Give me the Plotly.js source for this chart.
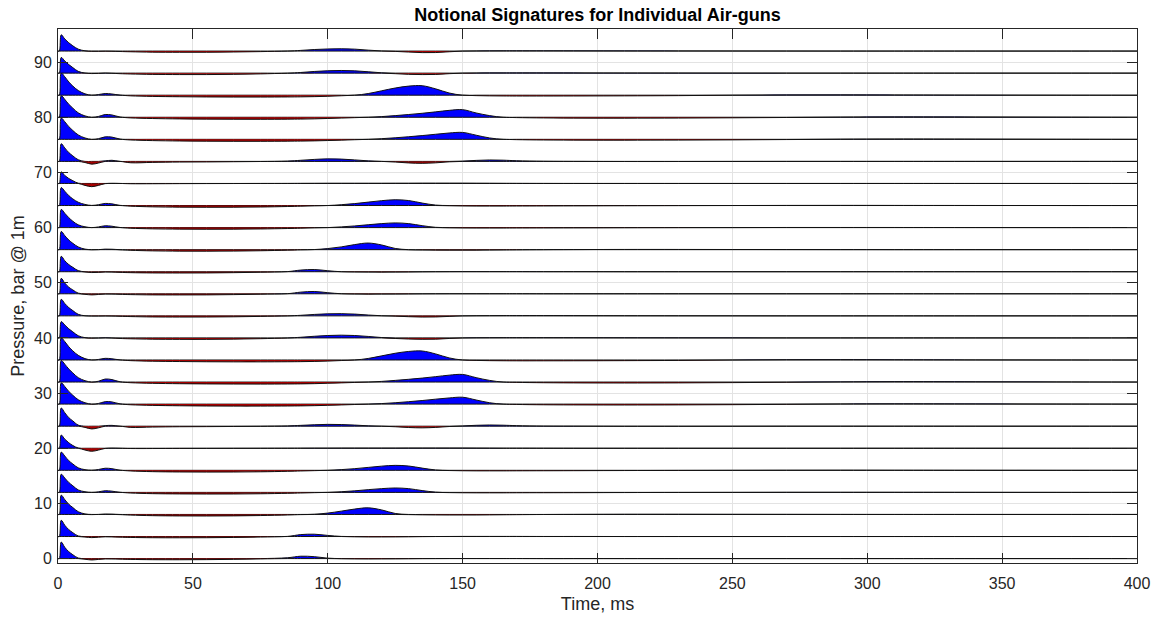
<!DOCTYPE html>
<html>
<head>
<meta charset="utf-8">
<script src="https://cdn.plot.ly/plotly-3.0.1.min.js"></script>
<style>html,body{margin:0;padding:0;background:#fff;}#chart{width:1157px;height:618px;}</style>
</head>
<body>
<div id="chart"></div>
<script>
// Time samples (ms)
const T = [0, 0.5, 1.2, 2.5, 4, 5.5, 7.5, 10, 12.5, 15,
  17.5, 20, 23, 27, 35, 45, 55, 65, 75, 85,
  90, 95, 100, 105, 110, 115, 120, 125, 130, 135,
  140, 145, 150, 155, 160, 165, 170, 180, 195, 210,
  230, 250, 270, 290, 310, 340, 370, 400];

// Pressure (bar @ 1m) per gun
const p00 = [0, 0, 3.0, 2.05, 1.25, 0.7, 0.1, -0.12, -0.25, -0.15,
  -0.06, -0.07, -0.1, -0.15, -0.2, -0.21, -0.19, -0.14, -0.06, 0.15,
  0.43, 0.35, 0.08, -0.03, -0.06, -0.07, -0.06, -0.05, -0.03, -0.01,
  0, 0.01, 0.01, 0.01, 0.01, 0.01, 0.01, 0, 0, 0,
  0, 0, 0, 0, 0, 0, 0, 0];
const p04 = [0, 0, 2.95, 2.05, 1.25, 0.7, 0.1, -0.1, -0.2, -0.12,
  -0.05, -0.07, -0.12, -0.17, -0.22, -0.23, -0.22, -0.17, -0.1, 0.02,
  0.35, 0.42, 0.2, 0.02, -0.05, -0.08, -0.08, -0.07, -0.05, -0.02,
  0, 0.01, 0.02, 0.02, 0.02, 0.02, 0.02, 0.01, 0.01, 0,
  0, 0, 0, 0, 0, 0, 0, 0];
const p08 = [0, 0, 3.5, 2.7, 1.85, 1.25, 0.5, 0.1, -0.03, 0,
  0.08, 0.06, -0.03, -0.12, -0.22, -0.27, -0.28, -0.26, -0.2, -0.1,
  -0.03, 0.04, 0.25, 0.6, 0.98, 1.2, 0.82, 0.18, -0.03, -0.07,
  -0.09, -0.1, -0.1, -0.1, -0.08, -0.06, -0.04, -0.01, 0.02, 0.04,
  0.04, 0.03, 0.02, 0.01, 0, 0, 0, 0];
const p12 = [0, 0, 3.3, 2.6, 1.8, 1.2, 0.45, 0.12, 0, 0.1,
  0.3, 0.22, 0.02, -0.12, -0.23, -0.28, -0.3, -0.29, -0.25, -0.17,
  -0.11, -0.05, 0, 0.12, 0.28, 0.5, 0.68, 0.8, 0.68, 0.33,
  0.05, -0.04, -0.07, -0.08, -0.08, -0.08, -0.07, -0.06, -0.05, -0.03,
  -0.01, 0, 0.02, 0.02, 0.02, 0.01, 0, 0];
const p16 = [0, 0, 3.3, 2.6, 1.75, 1.15, 0.45, 0.12, 0.02, 0.15,
  0.38, 0.3, 0.03, -0.12, -0.24, -0.3, -0.32, -0.31, -0.27, -0.18,
  -0.12, -0.06, 0, 0.13, 0.3, 0.53, 0.76, 0.9, 0.78, 0.4,
  0.07, -0.04, -0.08, -0.1, -0.1, -0.1, -0.09, -0.08, -0.06, -0.04,
  -0.02, 0, 0.02, 0.03, 0.02, 0.01, 0, 0];
const p20 = [0, 0, 2.4, 1.65, 1.0, 0.5, 0.05, -0.32, -0.55, -0.33,
  -0.03, 0.03, 0, -0.05, -0.05, -0.03, -0.02, -0.01, 0, 0.01,
  0.02, 0.03, 0.03, 0.04, 0.04, 0.04, 0.04, 0.04, 0.05, 0.05,
  0.05, 0.05, 0.05, 0.04, 0.03, 0.02, 0.02, 0.01, 0, 0,
  0, 0, 0, 0, 0, 0, 0, 0];
const p24 = [0, 0, 3.3, 2.45, 1.55, 0.95, 0.2, -0.22, -0.5, -0.3,
  0.1, 0.15, 0, -0.22, -0.16, -0.1, -0.08, -0.05, -0.02, 0.05,
  0.15, 0.26, 0.33, 0.3, 0.2, 0.07, 0, -0.1, -0.24, -0.3,
  -0.22, -0.06, 0.05, 0.16, 0.22, 0.18, 0.1, 0.02, 0, -0.02,
  -0.02, -0.01, 0, 0, 0, 0, 0, 0];
const p28 = [0, 0, 3.85, 3.2, 2.3, 1.6, 0.8, 0.25, -0.02, 0.12,
  0.45, 0.4, 0.05, -0.12, -0.23, -0.3, -0.34, -0.36, -0.36, -0.34,
  -0.32, -0.28, -0.22, -0.15, -0.07, 0, 0.1, 0.25, 0.44, 0.65,
  0.9, 1.12, 1.25, 0.75, 0.25, 0, -0.06, -0.12, -0.15, -0.16,
  -0.14, -0.1, -0.04, 0.04, 0.07, 0.05, 0.02, 0];
const p32 = [0, 0, 3.9, 3.25, 2.35, 1.65, 0.8, 0.25, -0.02, 0.15,
  0.55, 0.45, 0.05, -0.12, -0.23, -0.3, -0.34, -0.36, -0.37, -0.35,
  -0.33, -0.29, -0.22, -0.15, -0.07, 0, 0.12, 0.3, 0.5, 0.72,
  0.98, 1.25, 1.38, 0.8, 0.3, 0, -0.06, -0.12, -0.16, -0.17,
  -0.15, -0.1, -0.04, 0.04, 0.08, 0.06, 0.03, 0];
const p36 = [0, 0, 4.0, 3.35, 2.4, 1.65, 0.85, 0.25, 0, 0.1,
  0.3, 0.22, 0.02, -0.12, -0.22, -0.28, -0.32, -0.34, -0.34, -0.32,
  -0.3, -0.26, -0.2, -0.1, 0, 0.28, 0.75, 1.22, 1.55, 1.63,
  1.1, 0.38, 0, -0.08, -0.12, -0.14, -0.15, -0.15, -0.14, -0.12,
  -0.08, 0, 0.06, 0.07, 0.05, 0.02, 0, -0.01];
const p40 = [0, 0, 2.95, 2.35, 1.65, 1.1, 0.4, 0.05, -0.05, -0.03,
  0.03, -0.02, -0.1, -0.16, -0.23, -0.26, -0.26, -0.22, -0.14, -0.02,
  0.12, 0.3, 0.44, 0.5, 0.44, 0.27, 0.07, -0.1, -0.2, -0.25,
  -0.23, -0.1, 0, 0.03, 0.04, 0.05, 0.05, 0.05, 0.04, 0.03,
  0.02, 0.01, 0, 0, 0, 0, 0, 0];
const p44 = [0, 0, 3.0, 2.25, 1.5, 0.95, 0.28, 0.02, -0.04, -0.04,
  -0.02, -0.04, -0.08, -0.13, -0.2, -0.22, -0.21, -0.17, -0.1, -0.01,
  0.1, 0.26, 0.37, 0.4, 0.32, 0.15, 0.02, -0.05, -0.15, -0.22,
  -0.2, -0.1, 0, 0.03, 0.04, 0.05, 0.05, 0.05, 0.04, 0.03,
  0.02, 0.01, 0, 0, 0, 0, 0, 0];
const p48 = [0, 0, 2.8, 1.95, 1.2, 0.7, 0.12, -0.1, -0.2, -0.12,
  -0.05, -0.06, -0.1, -0.15, -0.2, -0.21, -0.2, -0.15, -0.08, 0.02,
  0.3, 0.42, 0.2, 0.01, -0.05, -0.07, -0.06, -0.05, -0.03, -0.01,
  0, 0.01, 0.01, 0.01, 0.01, 0.01, 0.01, 0, 0, 0,
  0, 0, 0, 0, 0, 0, 0, 0];
const p52 = [0, 0, 2.8, 2.0, 1.3, 0.8, 0.2, -0.05, -0.15, -0.12,
  -0.05, -0.07, -0.12, -0.17, -0.22, -0.23, -0.22, -0.17, -0.1, 0.02,
  0.3, 0.4, 0.18, 0.0, -0.05, -0.07, -0.08, -0.07, -0.05, -0.02,
  0, 0.01, 0.02, 0.02, 0.02, 0.02, 0.02, 0.01, 0.01, 0,
  0, 0, 0, 0, 0, 0, 0, 0];
const p56 = [0, 0, 3.3, 2.55, 1.75, 1.15, 0.5, 0.1, -0.03, 0,
  0.1, 0.08, -0.03, -0.12, -0.22, -0.27, -0.28, -0.26, -0.2, -0.1,
  -0.04, 0.02, 0.2, 0.5, 0.92, 1.2, 0.85, 0.22, -0.03, -0.07,
  -0.09, -0.1, -0.1, -0.1, -0.08, -0.06, -0.04, -0.01, 0.02, 0.04,
  0.04, 0.03, 0.02, 0.01, 0, 0, 0, 0];
const p60 = [0, 0, 3.3, 2.6, 1.8, 1.15, 0.5, 0.15, 0, 0.12,
  0.33, 0.25, 0.02, -0.12, -0.23, -0.28, -0.3, -0.29, -0.25, -0.17,
  -0.11, -0.05, 0, 0.13, 0.3, 0.52, 0.72, 0.85, 0.72, 0.35,
  0.05, -0.04, -0.07, -0.08, -0.08, -0.08, -0.07, -0.06, -0.05, -0.03,
  -0.01, 0, 0.02, 0.02, 0.02, 0.01, 0, 0];
const p64 = [0, 0, 3.25, 2.6, 1.8, 1.2, 0.6, 0.2, 0.02, 0.15,
  0.38, 0.3, 0.03, -0.12, -0.24, -0.3, -0.32, -0.31, -0.27, -0.18,
  -0.12, -0.06, 0, 0.15, 0.35, 0.62, 0.88, 1.05, 0.9, 0.45,
  0.08, -0.04, -0.08, -0.1, -0.1, -0.1, -0.09, -0.08, -0.06, -0.04,
  -0.02, 0, 0.02, 0.03, 0.02, 0.01, 0, 0];
const p68 = [0, 0, 2.1, 1.45, 0.9, 0.5, 0.05, -0.35, -0.58, -0.35,
  -0.03, 0.03, 0, -0.05, -0.05, -0.03, -0.02, -0.01, 0, 0.01,
  0.02, 0.03, 0.04, 0.04, 0.04, 0.04, 0.04, 0.05, 0.05, 0.06,
  0.06, 0.06, 0.06, 0.05, 0.04, 0.03, 0.02, 0.01, 0, 0,
  0, 0, 0, 0, 0, 0, 0, 0];
const p72 = [0, 0, 3.2, 2.45, 1.6, 1.0, 0.3, -0.2, -0.5, -0.3,
  0.1, 0.2, 0, -0.25, -0.18, -0.12, -0.1, -0.06, -0.02, 0.06,
  0.2, 0.36, 0.46, 0.42, 0.27, 0.1, 0, -0.12, -0.28, -0.35,
  -0.26, -0.08, 0.05, 0.18, 0.26, 0.22, 0.12, 0.03, 0, -0.02,
  -0.02, -0.01, 0, 0, 0, 0, 0, 0];
const p76 = [0, 0, 3.85, 3.2, 2.3, 1.6, 0.8, 0.25, -0.02, 0.12,
  0.45, 0.4, 0.05, -0.12, -0.23, -0.3, -0.34, -0.36, -0.36, -0.34,
  -0.32, -0.28, -0.22, -0.15, -0.07, 0, 0.12, 0.28, 0.47, 0.68,
  0.92, 1.15, 1.25, 0.75, 0.25, 0, -0.06, -0.12, -0.15, -0.16,
  -0.14, -0.1, -0.04, 0.04, 0.07, 0.05, 0.02, 0];
const p80 = [0, 0, 3.9, 3.25, 2.35, 1.65, 0.8, 0.25, -0.02, 0.15,
  0.5, 0.42, 0.05, -0.12, -0.23, -0.3, -0.34, -0.36, -0.37, -0.35,
  -0.33, -0.29, -0.22, -0.15, -0.07, 0, 0.12, 0.3, 0.5, 0.72,
  0.98, 1.25, 1.38, 0.78, 0.3, 0, -0.06, -0.12, -0.16, -0.17,
  -0.15, -0.1, -0.04, 0.04, 0.08, 0.06, 0.03, 0];
const p84 = [0, 0, 4.0, 3.35, 2.4, 1.65, 0.85, 0.25, 0, 0.12,
  0.3, 0.22, 0.02, -0.12, -0.22, -0.28, -0.32, -0.34, -0.34, -0.32,
  -0.3, -0.26, -0.2, -0.1, 0, 0.3, 0.8, 1.3, 1.65, 1.72,
  1.15, 0.4, 0, -0.08, -0.12, -0.14, -0.15, -0.15, -0.14, -0.12,
  -0.08, 0, 0.06, 0.07, 0.05, 0.02, 0, -0.01];
const p88 = [0, 0, 2.85, 2.2, 1.55, 1.0, 0.32, 0.02, -0.08, -0.05,
  0.02, -0.03, -0.1, -0.16, -0.23, -0.26, -0.26, -0.22, -0.14, -0.02,
  0.12, 0.3, 0.43, 0.48, 0.42, 0.25, 0.06, -0.1, -0.22, -0.26,
  -0.24, -0.1, 0, 0.03, 0.05, 0.05, 0.05, 0.05, 0.04, 0.03,
  0.02, 0.01, 0, 0, 0, 0, 0, 0];
const p92 = [0, 0, 2.95, 2.2, 1.5, 0.95, 0.35, 0.05, -0.05, -0.05,
  -0.02, -0.04, -0.08, -0.13, -0.2, -0.22, -0.22, -0.17, -0.1, 0,
  0.12, 0.28, 0.38, 0.42, 0.35, 0.17, 0.02, -0.06, -0.18, -0.28,
  -0.27, -0.13, 0, 0.03, 0.05, 0.06, 0.06, 0.06, 0.05, 0.04,
  0.03, 0.02, 0.01, 0, 0, 0, 0, 0];

const guns = [p00, p04, p08, p12, p16, p20, p24, p28, p32, p36, p40, p44,
              p48, p52, p56, p60, p64, p68, p72, p76, p80, p84, p88, p92];
const offsets = [0, 4, 8, 12, 16, 20, 24, 28, 32, 36, 40, 44,
                 48, 52, 56, 60, 64, 68, 72, 76, 80, 84, 88, 92];
const xTicks = [0, 50, 100, 150, 200, 250, 300, 350, 400];
const yTicks = [0, 10, 20, 30, 40, 50, 60, 70, 80, 90];

const traces = [];
guns.forEach((v, i) => {
  const off = offsets[i];
  const base = T.map(() => off);
  const pos = v.map(a => off + Math.max(a, 0));
  const neg = v.map(a => off + Math.min(a, 0));
  traces.push({x: T, y: base, mode: 'lines', line: {width: 0, color: 'rgba(0,0,0,0)'}, hoverinfo: 'skip'});
  traces.push({x: T, y: pos, mode: 'lines', fill: 'tonexty', fillcolor: '#0000ff',
               line: {color: '#111', width: 1, shape: 'spline', smoothing: 1}, hoverinfo: 'skip'});
  traces.push({x: T, y: base, mode: 'lines', line: {width: 0, color: 'rgba(0,0,0,0)'}, hoverinfo: 'skip'});
  traces.push({x: T, y: neg, mode: 'lines', fill: 'tonexty', fillcolor: '#a80000',
               line: {color: '#111', width: 1, shape: 'spline', smoothing: 1}, hoverinfo: 'skip'});
});

const font = 'Liberation Sans, Arial, Helvetica, sans-serif';
const axCol = '#262626';
const layout = {
  width: 1157, height: 618,
  margin: {l: 58, r: 20, t: 29, b: 55},
  paper_bgcolor: '#ffffff', plot_bgcolor: '#ffffff',
  showlegend: false,
  font: {family: font, color: axCol},
  title: {text: '<b>Notional Signatures for Individual Air-guns</b>',
          font: {family: font, size: 18, color: '#000'},
          x: 0.5, xref: 'paper', xanchor: 'center',
          y: 1 - 15 / 618, yref: 'container', yanchor: 'middle'},
  xaxis: {range: [0, 400], tickvals: xTicks, ticktext: xTicks.map(String),
          ticks: 'inside', ticklen: 10, tickcolor: axCol, tickwidth: 1,
          showline: true, linecolor: axCol, linewidth: 1, mirror: 'ticks',
          showgrid: true, gridcolor: '#e3e3e3', gridwidth: 1, zeroline: false,
          tickfont: {family: font, size: 16, color: axCol}, ticklabelstandoff: 6,
          title: {text: 'Time, ms', font: {family: font, size: 18, color: axCol}, standoff: 6}},
  yaxis: {range: [-0.8, 96], tickvals: yTicks, ticktext: yTicks.map(String),
          ticks: 'inside', ticklen: 10, tickcolor: axCol, tickwidth: 1,
          showline: true, linecolor: axCol, linewidth: 1, mirror: 'ticks',
          showgrid: true, gridcolor: '#e3e3e3', gridwidth: 1, zeroline: false,
          tickfont: {family: font, size: 16, color: axCol}, ticklabelstandoff: 2,
          title: {text: 'Pressure, bar @ 1m', font: {family: font, size: 18, color: axCol}, standoff: 4}}
};

Plotly.newPlot('chart', traces, layout, {staticPlot: true, displayModeBar: false});
</script>
</body>
</html>
